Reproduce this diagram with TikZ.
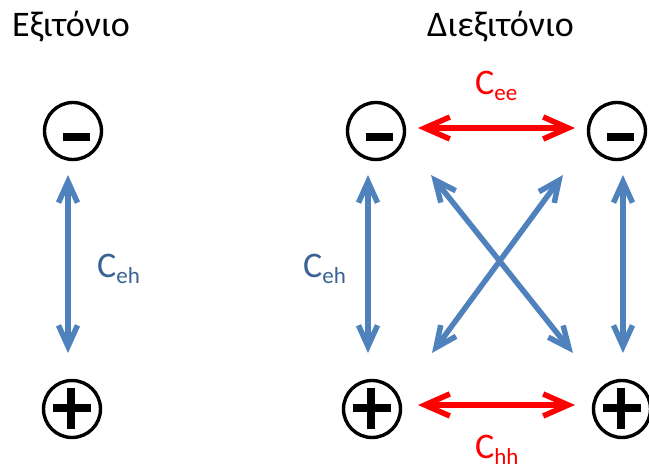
\documentclass[tikz,border=0pt]{standalone}
\usepackage{fontspec}
\setmainfont{Carlito}
\usetikzlibrary{arrows.meta,calc}
\definecolor{linkblue}{RGB}{79,129,189}
\definecolor{labelblue}{RGB}{58,98,148}
\definecolor{linkred}{RGB}{255,0,0}
\newcommand{\subtxt}[1]{{\fontsize{23}{23}\selectfont\raisebox{-6pt}{#1}}}
\tikzset{
  charge/.style={circle, draw=black, line width=3.4pt, minimum size=57pt, inner sep=0pt},
  signbar/.style={line width=7.5pt, black},
  title/.style={font=\fontsize{36}{36}\selectfont, inner sep=0pt, anchor=base west},
  coupling/.style={font=\fontsize{36}{36}\selectfont, inner sep=0pt, anchor=base west},
  bluelink/.style={linkblue, line width=5.5pt, {Straight Barb[length=21pt,width=19pt]}-{Straight Barb[length=21pt,width=19pt]}},
  redlink/.style={linkred, line width=5.5pt, {Straight Barb[length=25pt,width=22pt]}-{Straight Barb[length=25pt,width=22pt]}}
}
\newcommand{\minussign}[1]{\draw[signbar] ($(#1)+(-10.5,6)$) -- ($(#1)+(16.5,6)$);}
\newcommand{\plussign}[1]{\draw[signbar] ($(#1)+(-19,-1)$) -- ($(#1)+(19,-1)$) ($(#1)+(-1,-21)$) -- ($(#1)+(-1,20)$);}
\begin{document}
\begin{tikzpicture}[x=1pt,y=-1pt]
\useasboundingbox (0,0) rectangle (649,470);

% titles
\node[title] (t1) at (12,37) {Εξιτόνιο};
\node[title] (t2) at (427,37) {Διεξιτόνιο};

% exciton: one electron, one hole
\node[charge] (e1) at (73,131) {};
\node[charge] (h1) at (72,409) {};
\minussign{e1}
\plussign{h1}

% biexciton: two electrons, two holes
\node[charge] (e2) at (376,131) {};
\node[charge] (e3) at (617,131) {};
\node[charge] (h2) at (372,409) {};
\node[charge] (h3) at (622,409) {};
\minussign{e2}
\minussign{e3}
\plussign{h2}
\plussign{h3}

% arrow end points
\coordinate (a1) at (68,175);   \coordinate (b1) at (68,353);
\coordinate (a2) at (368,175);  \coordinate (b2) at (368,353);
\coordinate (a3) at (623,175);  \coordinate (b3) at (623,353);
\coordinate (d1) at (431,175);  \coordinate (d2) at (573,353);
\coordinate (d3) at (563,175);  \coordinate (d4) at (432,353);
\coordinate (r1) at (418,128);  \coordinate (r2) at (575,128);
\coordinate (r3) at (418,405);  \coordinate (r4) at (575,405);

% electron-hole couplings
\draw[bluelink] (a1) -- (b1);
\draw[bluelink] (a2) -- (b2);
\draw[bluelink] (a3) -- (b3);
\draw[bluelink] (d1) -- (d2);
\draw[bluelink] (d3) -- (d4);

% electron-electron and hole-hole couplings
\draw[redlink] (r1) -- (r2);
\draw[redlink] (r3) -- (r4);

% labels
\node[coupling, text=labelblue] (ceh1) at (97,278) {C\subtxt{eh}};
\node[coupling, text=labelblue] (ceh2) at (303,278) {C\subtxt{eh}};
\node[coupling, text=linkred] (cee) at (475,95) {C\subtxt{ee}};
\node[coupling, text=linkred] (chh) at (475,459) {C\subtxt{hh}};
\end{tikzpicture}
\end{document}
